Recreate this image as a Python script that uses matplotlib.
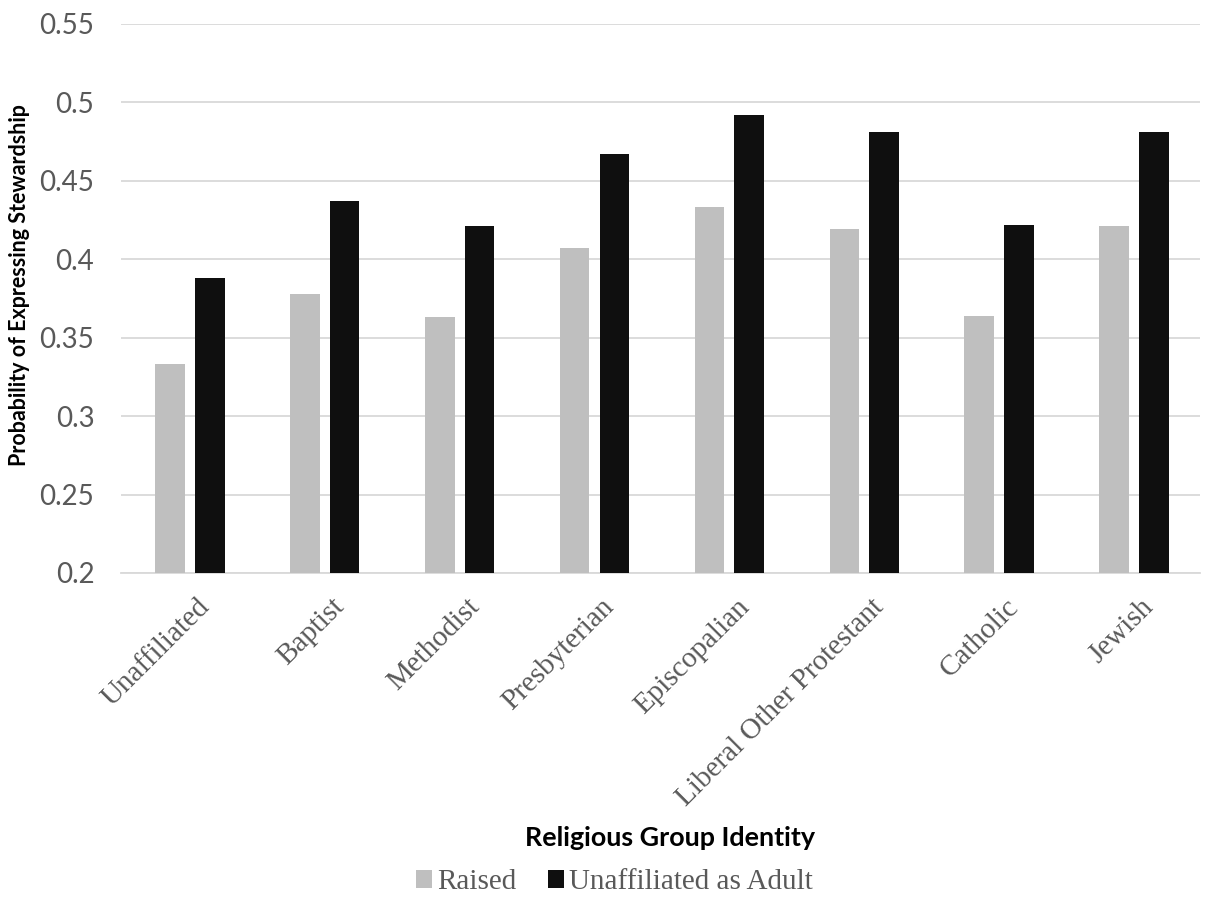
import numpy as np
import matplotlib.pyplot as plt
from matplotlib.transforms import ScaledTranslation

# Probability of expressing stewardship by religious group
groups = ["Unaffiliated", "Baptist", "Methodist", "Presbyterian", "Episcopalian",
          "Liberal Other Protestant", "Catholic", "Jewish"]
raised = [0.333, 0.378, 0.363, 0.407, 0.433, 0.419, 0.364, 0.421]
unaffiliated_adult = [0.388, 0.437, 0.421, 0.467, 0.492, 0.481, 0.422, 0.481]

fig = plt.figure(figsize=(12.07, 9.19), dpi=100)
ax = fig.add_axes([0.1, 0.3765, 0.894, 0.5975])

x = np.arange(len(groups))
w = 0.22
ax.bar(x - 0.135, raised, w, color="#bfbfbf", label="Raised", zorder=3)
ax.bar(x + 0.16, unaffiliated_adult, w, color="#0f0f0f", label="Unaffiliated as Adult", zorder=3)

ax.set_ylim(0.2, 0.55)
ax.set_xlim(-0.5, len(groups) - 0.5)
ax.set_yticks(np.arange(0.2, 0.551, 0.05))
ax.set_yticklabels(["0.2", "0.25", "0.3", "0.35", "0.4", "0.45", "0.5", "0.55"],
                   fontfamily="Lato", fontsize=20, color="#595959")
ax.yaxis.grid(True, color="#d9d9d9", linewidth=1.3, zorder=0)
ax.tick_params(axis="y", length=0, pad=19)
ax.tick_params(axis="x", length=0, pad=15)
for s in ["top", "right", "left"]:
    ax.spines[s].set_visible(False)
ax.spines["bottom"].set_color("#d9d9d9")
ax.spines["bottom"].set_linewidth(1.3)

ax.set_xticks(x)
ax.set_xticklabels(groups, rotation=45, ha="right", rotation_mode="anchor",
                   fontfamily="Liberation Serif", fontsize=21, color="#595959")
# nudge the slanted labels a little to the right
shift = ScaledTranslation(6 / 72, 0, fig.dpi_scale_trans)
for lbl in ax.get_xticklabels():
    lbl.set_transform(lbl.get_transform() + shift)

ax.set_ylabel("Probability of Expressing Stewardship", fontfamily="Lato",
              fontweight="bold", fontsize=15.5)
ax.yaxis.set_label_coords(-0.084, 0.525)
fig.text(0.555, 0.088, "Religious Group Identity", ha="center", va="center",
         fontfamily="Lato", fontweight="bold", fontsize=19.4)

fig.legend(loc="center", bbox_to_anchor=(0.509, 0.04), ncol=2, frameon=False,
           prop={"family": "Liberation Serif", "size": 21}, labelcolor="#595959",
           handlelength=0.55, handleheight=0.55, handletextpad=0.15, columnspacing=1.1)

fig.savefig("out.png", dpi=100, facecolor="white")
